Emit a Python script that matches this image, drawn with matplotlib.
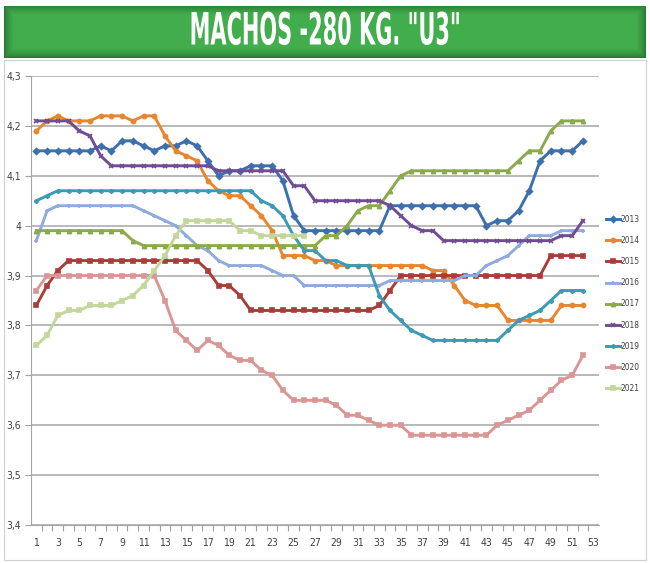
import numpy as np
import matplotlib.pyplot as plt
import matplotlib.patheffects as pe
from matplotlib import font_manager
from matplotlib.transforms import Affine2D
from matplotlib.ticker import FixedLocator, FuncFormatter
from matplotlib.patches import Rectangle

# weekly values per year
weeks = list(range(1, 53))
weeks_2021 = list(range(1, 27))

y2013 = [4.15, 4.15, 4.15, 4.15, 4.15, 4.15, 4.16, 4.15, 4.17, 4.17,
         4.16, 4.15, 4.16, 4.16, 4.17, 4.16, 4.13, 4.10, 4.11, 4.11,
         4.12, 4.12, 4.12, 4.09, 4.02, 3.99, 3.99, 3.99, 3.99, 3.99,
         3.99, 3.99, 3.99, 4.04, 4.04, 4.04, 4.04, 4.04, 4.04, 4.04,
         4.04, 4.04, 4.00, 4.01, 4.01, 4.03, 4.07, 4.13, 4.15, 4.15,
         4.15, 4.17]
y2014 = [4.19, 4.21, 4.22, 4.21, 4.21, 4.21, 4.22, 4.22, 4.22, 4.21,
         4.22, 4.22, 4.18, 4.15, 4.14, 4.13, 4.09, 4.07, 4.06, 4.06,
         4.04, 4.02, 3.99, 3.94, 3.94, 3.94, 3.93, 3.93, 3.92, 3.92,
         3.92, 3.92, 3.92, 3.92, 3.92, 3.92, 3.92, 3.91, 3.91, 3.88,
         3.85, 3.84, 3.84, 3.84, 3.81, 3.81, 3.81, 3.81, 3.81, 3.84,
         3.84, 3.84]
y2015 = [3.84, 3.88, 3.91, 3.93, 3.93, 3.93, 3.93, 3.93, 3.93, 3.93,
         3.93, 3.93, 3.93, 3.93, 3.93, 3.93, 3.91, 3.88, 3.88, 3.86,
         3.83, 3.83, 3.83, 3.83, 3.83, 3.83, 3.83, 3.83, 3.83, 3.83,
         3.83, 3.83, 3.84, 3.87, 3.90, 3.90, 3.90, 3.90, 3.90, 3.90,
         3.90, 3.90, 3.90, 3.90, 3.90, 3.90, 3.90, 3.90, 3.94, 3.94,
         3.94, 3.94]
y2016 = [3.97, 4.03, 4.04, 4.04, 4.04, 4.04, 4.04, 4.04, 4.04, 4.04,
         4.03, 4.02, 4.01, 4.00, 3.98, 3.96, 3.95, 3.93, 3.92, 3.92,
         3.92, 3.92, 3.91, 3.90, 3.90, 3.88, 3.88, 3.88, 3.88, 3.88,
         3.88, 3.88, 3.88, 3.89, 3.89, 3.89, 3.89, 3.89, 3.89, 3.89,
         3.90, 3.90, 3.92, 3.93, 3.94, 3.96, 3.98, 3.98, 3.98, 3.99,
         3.99, 3.99]
y2017 = [3.99, 3.99, 3.99, 3.99, 3.99, 3.99, 3.99, 3.99, 3.99, 3.97,
         3.96, 3.96, 3.96, 3.96, 3.96, 3.96, 3.96, 3.96, 3.96, 3.96,
         3.96, 3.96, 3.96, 3.96, 3.96, 3.96, 3.96, 3.98, 3.98, 4.00,
         4.03, 4.04, 4.04, 4.07, 4.10, 4.11, 4.11, 4.11, 4.11, 4.11,
         4.11, 4.11, 4.11, 4.11, 4.11, 4.13, 4.15, 4.15, 4.19, 4.21,
         4.21, 4.21]
y2018 = [4.21, 4.21, 4.21, 4.21, 4.19, 4.18, 4.14, 4.12, 4.12, 4.12,
         4.12, 4.12, 4.12, 4.12, 4.12, 4.12, 4.12, 4.11, 4.11, 4.11,
         4.11, 4.11, 4.11, 4.11, 4.08, 4.08, 4.05, 4.05, 4.05, 4.05,
         4.05, 4.05, 4.05, 4.04, 4.02, 4.00, 3.99, 3.99, 3.97, 3.97,
         3.97, 3.97, 3.97, 3.97, 3.97, 3.97, 3.97, 3.97, 3.97, 3.98,
         3.98, 4.01]
y2019 = [4.05, 4.06, 4.07, 4.07, 4.07, 4.07, 4.07, 4.07, 4.07, 4.07,
         4.07, 4.07, 4.07, 4.07, 4.07, 4.07, 4.07, 4.07, 4.07, 4.07,
         4.07, 4.05, 4.04, 4.02, 3.98, 3.95, 3.95, 3.93, 3.93, 3.92,
         3.92, 3.92, 3.86, 3.83, 3.81, 3.79, 3.78, 3.77, 3.77, 3.77,
         3.77, 3.77, 3.77, 3.77, 3.79, 3.81, 3.82, 3.83, 3.85, 3.87,
         3.87, 3.87]
y2020 = [3.87, 3.90, 3.90, 3.90, 3.90, 3.90, 3.90, 3.90, 3.90, 3.90,
         3.90, 3.90, 3.85, 3.79, 3.77, 3.75, 3.77, 3.76, 3.74, 3.73,
         3.73, 3.71, 3.70, 3.67, 3.65, 3.65, 3.65, 3.65, 3.64, 3.62,
         3.62, 3.61, 3.60, 3.60, 3.60, 3.58, 3.58, 3.58, 3.58, 3.58,
         3.58, 3.58, 3.58, 3.60, 3.61, 3.62, 3.63, 3.65, 3.67, 3.69,
         3.70, 3.74]
y2021 = [3.76, 3.78, 3.82, 3.83, 3.83, 3.84, 3.84, 3.84, 3.85, 3.86,
         3.88, 3.91, 3.94, 3.98, 4.01, 4.01, 4.01, 4.01, 4.01, 3.99,
         3.99, 3.98, 3.98, 3.98, 3.98, 3.98]

years = ['2013', '2014', '2015', '2016', '2017', '2018', '2019', '2020', '2021']
series = [y2013, y2014, y2015, y2016, y2017, y2018, y2019, y2020, y2021]
colors = ['#3D6FAD', '#E8862F', '#A93D3A', '#8FAADC', '#8BAA4B',
          '#6F4C93', '#3B9BB6', '#D99694', '#C3D69B']
markers = ['D', 'o', 's', '+', '^', 'x', (6, 2, 0), 's', 's']
msizes = [5, 6.5, 6, 7, 6, 6, 7, 2.2, 2.2]


class Squeeze(pe.AbstractPathEffect):
    """Narrow the glyphs horizontally around a fixed pixel x."""
    def __init__(self, sx, cx):
        super().__init__()
        self.sx, self.cx = sx, cx

    def draw_path(self, renderer, gc, tpath, affine, rgbFace=None):
        squeeze = Affine2D().translate(-self.cx, 0).scale(self.sx, 1).translate(self.cx, 0)
        renderer.draw_path(gc, tpath, affine + squeeze, rgbFace)


# pick a narrow font if there is one
names = {f.name for f in font_manager.fontManager.ttflist}
cond = any(f.name == 'DejaVu Sans' and str(f.stretch) in ('condensed', '300', '375')
           for f in font_manager.fontManager.ttflist)
if 'Liberation Sans Narrow' in names:
    small_font = dict(family=['Liberation Sans Narrow', 'DejaVu Sans'])
elif cond:
    small_font = dict(family=['DejaVu Sans'], stretch='condensed')
else:
    small_font = dict(family=['DejaVu Sans'])
plt.rcParams['font.family'] = small_font['family']
if 'stretch' in small_font:
    plt.rcParams['font.stretch'] = 'condensed'

fig = plt.figure(figsize=(6.5, 5.63), dpi=100)

# outer frame
fig.patches.append(Rectangle((4 / 650, 3 / 563), 642 / 650, 500 / 563,
                             transform=fig.transFigure, fill=False,
                             edgecolor='#D0D0D0', lw=0.8))

# green banner with darker edges
bax = fig.add_axes([4 / 650, 1 - 58 / 563, 642 / 650, 52 / 563])
h, w = 52, 642
yy, xx = np.mgrid[0:h, 0:w]
d = np.minimum(np.minimum(yy, h - 1 - yy), np.minimum(xx, w - 1 - xx))
t = np.clip(d / 9.0, 0, 1) ** 0.7
edge = np.array([0x2A, 0x78, 0x34]) / 255
center = np.array([0x41, 0xAD, 0x4C]) / 255
img = edge + (center - edge) * t[..., None]
bax.imshow(img, aspect='auto', extent=(0, 1, 0, 1))
bax.set_axis_off()
bax.text(0.5, 0.5, 'MACHOS -280 KG. "U3"', color='white', fontsize=32,
         fontweight='bold', ha='center', va='center', family=['DejaVu Sans'],
         stretch='normal', path_effects=[Squeeze(0.47, 326)])

ax = fig.add_axes([31 / 650, 1 - 525 / 563, 568 / 650, 449 / 563])
for yr, ys, c, m, ms in zip(years, series, colors, markers, msizes):
    xs = weeks if yr != '2021' else weeks_2021
    ax.plot(xs, ys, color=c, lw=2.1, marker=m, markersize=ms,
            markeredgewidth=1.2, label=yr)

ax.set_xlim(0.5, 53.5)
ax.set_ylim(3.4, 4.3)
ax.set_yticks(np.arange(3.4, 4.31, 0.1))
ax.yaxis.set_major_formatter(FuncFormatter(
    lambda v, p: '4' if abs(v - 4) < 1e-6 else f'{v:.1f}'.replace('.', ',')))
ax.set_xticks(range(1, 54, 2))
ax.xaxis.set_minor_locator(FixedLocator(np.arange(1.5, 53.5, 1)))
ax.tick_params(axis='x', which='major', length=0, labelsize=7.5,
               labelcolor='#404040', pad=9)
ax.tick_params(axis='x', which='minor', length=4, color='#A0A0A0', width=0.8)
ax.tick_params(axis='y', length=4, color='#A0A0A0', labelsize=7.5,
               labelcolor='#404040', pad=3)
ax.grid(axis='y', color='#A6A6A6', lw=1.1)
ax.set_axisbelow(True)
for s in ['top', 'right']:
    ax.spines[s].set_visible(False)
ax.spines['left'].set_color('#A6A6A6')
ax.spines['bottom'].set_color('#A6A6A6')

handles, labels = ax.get_legend_handles_labels()
for hd in handles:
    hd.set_markersize(3)
fig.legend(handles, labels, loc='center left',
           bbox_to_anchor=(603 / 650, 1 - 304 / 563), frameon=False,
           fontsize=6, handlelength=1.6, handletextpad=0.15,
           labelspacing=1.45, labelcolor='#404040', borderaxespad=0)

fig.savefig('out.png', dpi=100)
